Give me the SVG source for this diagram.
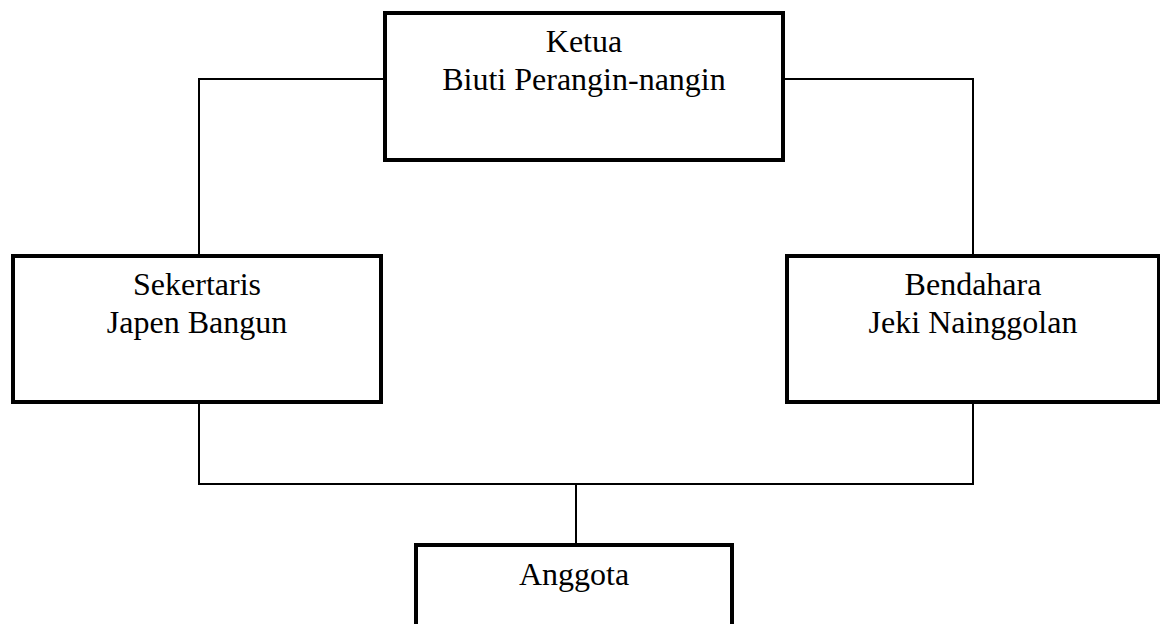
<svg xmlns="http://www.w3.org/2000/svg" width="1160" height="624" viewBox="0 0 1160 624">
<style>
.box{fill:#fff;stroke:#000;stroke-width:4}
.conn{fill:none;stroke:#000;stroke-width:2}
text{font-family:"Liberation Serif","Times New Roman",serif;font-size:32px;fill:#000;text-anchor:middle}
</style>
<rect width="1160" height="624" fill="#fff"/>
<g id="connectors">
<polyline class="conn" points="385,79 199,79 199,256"/>
<polyline class="conn" points="783,79 973,79 973,256"/>
<polyline class="conn" points="199,402 199,484 973,484 973,402"/>
<line class="conn" x1="576" y1="484" x2="576" y2="545"/>
</g>
<g id="ketua">
<rect class="box" x="385" y="13" width="398" height="147"/>
<text x="584" y="52">Ketua</text>
<text x="584" y="90">Biuti Perangin-nangin</text>
</g>
<g id="sekertaris">
<rect class="box" x="13" y="256" width="368" height="146"/>
<text x="197" y="295">Sekertaris</text>
<text x="197" y="333">Japen Bangun</text>
</g>
<g id="bendahara">
<rect class="box" x="787" y="256" width="372" height="146"/>
<text x="973" y="295">Bendahara</text>
<text x="973" y="333">Jeki Nainggolan</text>
</g>
<g id="anggota">
<rect class="box" x="416" y="545" width="316" height="100"/>
<text x="574" y="585">Anggota</text>
</g>
</svg>
